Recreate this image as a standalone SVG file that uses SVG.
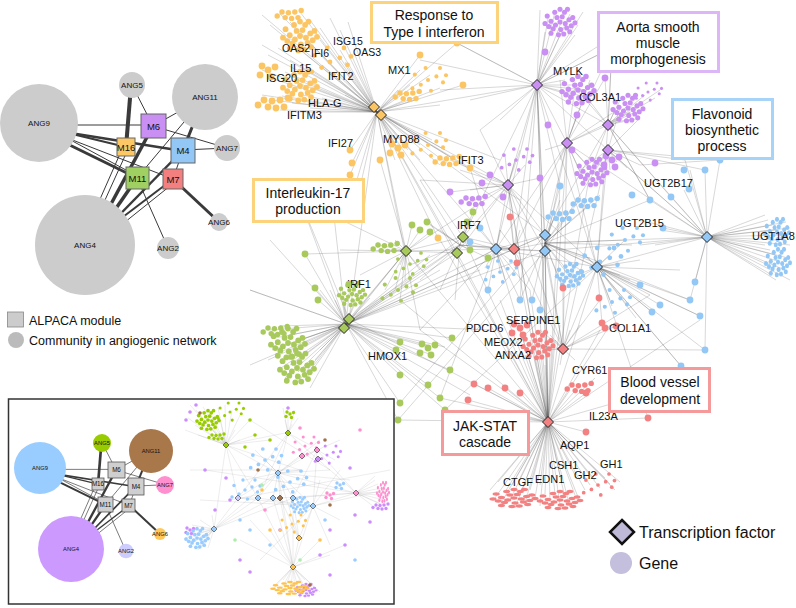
<svg xmlns="http://www.w3.org/2000/svg" width="796" height="608" viewBox="0 0 796 608">
<style>
.t{font-family:"Liberation Sans",Arial,Helvetica,sans-serif;fill:#111}
.gl{font-size:11px}
.bx{font-size:14px;text-anchor:middle}
.an{font-size:8px;text-anchor:middle}
.mn{font-size:9.5px;text-anchor:middle}
.ai{font-size:5.8px;text-anchor:middle}
.mi{font-size:6.3px;text-anchor:middle}
.e{fill:none;stroke:#555;stroke-opacity:.42;stroke-width:.55}
.ei{fill:none;stroke:#666;stroke-opacity:.3;stroke-width:.4}
.ae{stroke:#3a3a3a;fill:none}
.box{fill:#fff;stroke-width:3}
.mod{stroke:#666;stroke-width:1}
.modi{fill:#cfcfcf;stroke:#555;stroke-width:.8}
.tf{stroke:#222;stroke-width:1}
.or{fill:#fcc563}.pu{fill:#c98ff2}.gr{fill:#a8c95c}.bl{fill:#92c7f6}.rd{fill:#f48181}
</style>
<defs>
<g id="cA"><circle r="3.4"/><circle cx="7" cy="2" r="3.4"/><circle cx="-6" cy="4" r="3.4"/><circle cx="3" cy="-7" r="3.4"/><circle cx="-4" cy="-6" r="3.4"/><circle cx="12" cy="-3" r="3.4"/><circle cx="-12" cy="-1" r="3.4"/><circle cx="9" cy="8" r="3.4"/><circle cx="-9" cy="9" r="3.4"/><circle cx="1" cy="10" r="3.4"/><circle cx="15" cy="5" r="3.4"/><circle cx="-15" cy="6" r="3.4"/><circle cx="6" cy="-13" r="3.4"/><circle cx="-7" cy="-13" r="3.4"/><circle cx="17" cy="-6" r="3.4"/><circle cx="-17" cy="-8" r="3.4"/><circle cx="0" cy="-17" r="3.4"/><circle cx="13" cy="13" r="3.4"/><circle cx="-2" cy="17" r="3.4"/><circle cx="20" cy="1" r="3.4"/><circle cx="-20" cy="2" r="3.4"/><circle cx="10" cy="-17" r="3.4"/><circle cx="-12" cy="15" r="3.4"/><circle cx="5" cy="16" r="3.4"/></g>
<g id="cB"><circle r="3.4"/><circle cx="14" cy="-6" r="3.4"/><circle cx="-12" cy="8" r="3.4"/><circle cx="25" cy="4" r="3.4"/><circle cx="-22" cy="-9" r="3.4"/><circle cx="5" cy="18" r="3.4"/><circle cx="-4" cy="-20" r="3.4"/><circle cx="20" cy="-20" r="3.4"/><circle cx="-26" cy="14" r="3.4"/><circle cx="30" cy="-8" r="3.4"/></g>
<g id="cC"><circle r="3.4"/><circle cx="8" cy="1" r="3.4"/><circle cx="16" cy="0" r="3.4"/><circle cx="24" cy="-2" r="3.4"/><circle cx="4" cy="7" r="3.4"/><circle cx="12" cy="8" r="3.4"/><circle cx="20" cy="7" r="3.4"/><circle cx="-6" cy="5" r="3.4"/></g>
<g id="cD"><circle r="3.4"/><circle cx="7" cy="-3" r="3.4"/><circle cx="-6" cy="-4" r="3.4"/><circle cx="3" cy="7" r="3.4"/><circle cx="-8" cy="5" r="3.4"/></g>
<path id="dm" d="M0-5.5L5.5 0 0 5.5-5.5 0Z"/>
<path id="dmi" d="M0-3L3 0 0 3-3 0Z"/>
</defs>

<!-- ===== Top-left: modules vs communities ===== -->
<g id="ang-edges" class="ae">
<path stroke-width="1" d="M39 125L153 125"/>
<path stroke-width="2" d="M39 126L126 147"/>
<path stroke-width="2.5" d="M39 128L183 151"/>
<path stroke-width="3" d="M39 130L137 178"/>
<path stroke-width="1" d="M41 124L137 176"/>
<path stroke-width="1" d="M39 127L173 179"/>
<path stroke-width="4" d="M131 86L126 147"/>
<path stroke-width="1" d="M132 85L153 126"/>
<path stroke-width="1" d="M205 97L153 126"/>
<path stroke-width="3" d="M203 100L183 150"/>
<path stroke-width="1" d="M205 97L137 178"/>
<path stroke-width="1" d="M227 148L153 126"/>
<path stroke-width="1" d="M227 148L183 150"/>
<path stroke-width="3" d="M173 179L219 222"/>
<path stroke-width="1" d="M137 178L168 248"/>
<path stroke-width="1" d="M183 150L173 179"/>
<path stroke-width="1" d="M82 240L123 147"/>
<path stroke-width="1" d="M86 242L129 147"/>
<path stroke-width="3.5" d="M90 243L153 126"/>
<path stroke-width="3.5" d="M90 246L137 178"/>
<path stroke-width="2.5" d="M88 247L183 150"/>
<path stroke-width="2" d="M86 245L173 179"/>
<path stroke-width="1" d="M90 250L175 182"/>
</g>
<g id="ANG9"><circle cx="39" cy="123" r="39" fill="#cccccc"/><text class="t an" x="39" y="126">ANG9</text></g>
<g id="ANG5"><circle cx="132" cy="85" r="13" fill="#cccccc"/><text class="t an" x="132" y="88">ANG5</text></g>
<g id="ANG11"><circle cx="205" cy="97" r="33" fill="#cccccc"/><text class="t an" x="205" y="100">ANG11</text></g>
<g id="ANG7"><circle cx="227" cy="148" r="13" fill="#cccccc"/><text class="t an" x="227" y="151">ANG7</text></g>
<g id="ANG6"><circle cx="219" cy="222" r="9" fill="#cccccc"/><text class="t an" x="219" y="225">ANG6</text></g>
<g id="ANG2"><circle cx="168" cy="248" r="11" fill="#cccccc"/><text class="t an" x="168" y="251">ANG2</text></g>
<g id="ANG4"><circle cx="85" cy="245" r="50" fill="#cccccc"/><text class="t an" x="85" y="248">ANG4</text></g>
<g id="M6"><rect class="mod" x="141" y="114" width="25" height="24" fill="#c98ff2"/><text class="t mn" x="153.5" y="129.5">M6</text></g>
<g id="M16"><rect class="mod" x="117" y="138" width="18" height="18" fill="#fcc865"/><text class="t mn" x="126" y="150.5">M16</text></g>
<g id="M4"><rect class="mod" x="171" y="138" width="24" height="25" fill="#92c7f6"/><text class="t mn" x="183" y="154">M4</text></g>
<g id="M11"><rect class="mod" x="126" y="167" width="23" height="22" fill="#a0cf62"/><text class="t mn" x="137.5" y="181.5">M11</text></g>
<g id="M7"><rect class="mod" x="163" y="169" width="20" height="20" fill="#f47f7f"/><text class="t mn" x="173" y="182.5">M7</text></g>

<g id="legend-left">
<rect x="7.5" y="312" width="16" height="15" fill="#cccccc" stroke="#888" stroke-width=".8"/>
<text class="t" x="29" y="324.5" font-size="12.5">ALPACA module</text>
<circle cx="16" cy="340" r="8" fill="#bbbbbb"/>
<text class="t" x="29" y="344.5" font-size="12.5">Community in angiogenic network</text>
</g>

<!-- ===== Main network ===== -->
<g id="connectors">
<path class="e" d="M377 112 262 15M377 112 270 25M377 112 280 14M377 112 290 22M377 112 300 12M377 112 310 20M377 112 320 28M377 112 330 18M377 112 340 30M377 112 348 22M377 112 262 45M377 112 268 55M377 112 278 48M377 112 290 60M377 112 300 50M377 112 312 45M377 112 320 40M377 112 340 50M377 112 355 55M377 112 262 70M377 112 270 78M377 112 285 72M377 112 298 80M377 112 310 70M377 112 322 65M377 112 335 72M377 112 345 62M377 112 262 95M377 112 270 100M377 112 282 96M377 112 292 103M377 112 303 95M377 112 314 88M377 112 322 98M377 112 280 110M377 112 295 112M377 112 310 108M377 112 330 104M377 112 345 95M377 112 398 90M377 112 410 85M377 112 420 70M377 112 430 75M377 112 440 88M377 112 457 43M377 112 463 85M377 112 420 55M377 112 405 100M377 112 415 100M377 112 440 105M377 112 350 150M377 112 352 163M377 112 350 175M377 112 353 193M377 112 356 205M377 112 395 140M377 112 408 150M377 112 420 145M377 112 432 140M377 112 445 150M377 112 455 160M377 112 470 168M377 112 395 160M377 112 420 160M377 112 440 165M377 112 406 251M377 112 463 237M377 112 457 253M377 112 496 249M377 112 508 185M377 112 537 85M377 112 545 235M377 112 548 422M377 112 420 330M377 112 349 319M377 112 500 160M377 112 520 200M377 112 438 238"/>
<path class="e" d="M537 85 540 10M537 85 548 18M537 85 555 12M537 85 562 20M537 85 570 14M537 85 578 25M537 85 545 32M537 85 560 35M537 85 575 35M537 85 583 12M537 85 612 48M537 85 600 45M537 85 565 80M537 85 575 85M537 85 585 90M537 85 590 98M537 85 570 95M537 85 560 70M537 85 470 100M537 85 440 90M537 85 420 60M537 85 500 120M537 85 480 130M537 85 508 185M537 85 496 249M537 85 545 235M537 85 545 251M537 85 567 143M537 85 608 125M537 85 608 150M537 85 597 267M537 85 514 249M537 85 463 237M537 85 548 422M537 85 520 300M537 85 457 43"/>
<path class="e" d="M567 143 560 80M567 143 575 88M567 143 585 95M567 143 590 80M567 143 580 172M567 143 590 168M567 143 598 178M567 143 585 182M567 143 608 125M567 143 620 108M567 143 630 112M567 143 572 150M567 143 545 150M567 143 560 160M567 143 545 235M567 143 545 251M567 143 597 267M567 143 496 249M567 143 514 249M567 143 548 422M567 143 563 349M567 143 707 237M567 143 605 78M567 143 577 115M608 125 620 100M608 125 628 105M608 125 635 112M608 125 640 118M608 125 625 120M608 125 615 110M608 125 645 95M608 125 655 98M608 125 660 90M608 125 612 48M608 125 605 78M608 125 650 200M608 125 590 172M608 125 597 267M608 125 545 235M608 125 707 237M608 125 671 197M608 125 585 95M608 125 575 88M608 150 580 170M608 150 590 175M608 150 600 180M608 150 610 170M608 150 617 162M608 150 627 168M608 150 640 165M608 150 685 160M608 150 705 170M608 150 597 267M608 150 545 251M608 150 707 237M608 150 563 349M608 150 620 108M608 150 640 118"/>
<path class="e" d="M508 185 505 155M508 185 515 160M508 185 525 165M508 185 520 150M508 185 470 190M508 185 475 200M508 185 490 175M508 185 503 197M508 185 450 160M508 185 460 170M508 185 545 235M508 185 496 249M508 185 514 249M508 185 463 237M508 185 457 253M508 185 406 251M508 185 545 251M508 185 597 267M508 185 548 422M508 185 563 349M508 185 420 180M508 185 480 130M508 185 540 178M508 185 450 192"/>
<path class="e" d="M406 251 380 245M406 251 388 250M406 251 395 240M406 251 412 225M406 251 420 230M406 251 430 232M406 251 400 265M406 251 410 265M406 251 420 270M406 251 395 290M406 251 400 300M406 251 405 280M406 251 385 290M406 251 349 319M406 251 344 328M406 251 463 237M406 251 457 253M406 251 496 249M406 251 340 250M406 251 305 254M406 251 360 275M460 245 427 222M460 245 440 230M460 245 467 222M460 245 470 250M460 245 488 258M460 245 410 265M460 245 420 280M460 245 349 319M460 245 344 328M460 245 496 249M460 245 514 249M460 245 545 251M460 245 420 180M460 245 440 290M460 245 455 300M460 245 473 212"/>
<path class="e" d="M346 324 270 330M346 324 275 338M346 324 280 326M346 324 285 345M346 324 290 335M346 324 295 350M346 324 300 340M346 324 305 355M346 324 272 350M346 324 280 360M346 324 290 365M346 324 298 372M346 324 305 380M346 324 285 378M346 324 295 385M346 324 310 370M346 324 315 360M346 324 310 388M346 324 278 370M346 324 268 360M346 324 320 350M346 324 330 290M346 324 340 288M346 324 350 285M346 324 360 292M346 324 370 298M346 324 355 300M346 324 345 305M346 324 335 300M346 324 320 290M346 324 318 300M346 324 315 288M346 324 400 342M346 324 396 350M346 324 421 345M346 324 427 345M346 324 432 355M346 324 445 347M346 324 400 375M346 324 428 385M346 324 450 370M346 324 440 398M346 324 445 410M346 324 490 330M346 324 470 395M346 324 406 251M346 324 457 253M346 324 463 237M346 324 496 249M346 324 514 249M346 324 545 251M346 324 545 235M346 324 480 270M346 324 440 270M346 324 430 255M346 324 395 290M346 324 410 280M346 324 305 254M346 324 398 420M346 324 400 403M346 324 452 338M346 324 250 290M346 324 300 200M346 324 270 240"/>
<path class="e" d="M496 249 475 260M496 249 485 268M496 249 500 270M496 249 510 260M496 249 505 280M496 249 488 290M496 249 530 290M496 249 520 300M496 249 514 249M496 249 545 235M496 249 545 251M496 249 597 267M496 249 480 228M496 249 470 242M496 249 500 230M545 243 555 215M545 243 563 218M545 243 570 222M545 243 560 200M545 243 580 200M545 243 590 205M545 243 568 275M545 243 560 282M545 243 575 280M545 243 580 270M545 243 590 258M545 243 600 262M545 243 625 240M545 243 632 245M545 243 540 310M545 243 532 300M545 243 520 300M545 243 597 267M545 243 707 237M545 243 563 349M545 243 548 422M545 243 514 249M545 243 563 288M545 243 600 195M545 243 560 186M545 243 650 200M545 243 690 300M545 243 700 316"/>
<path class="e" d="M597 267 585 255M597 267 610 255M597 267 615 265M597 267 620 275M597 267 630 280M597 267 640 285M597 267 650 295M597 267 660 305M597 267 690 300M597 267 700 316M597 267 610 300M597 267 612 306M597 267 627 305M597 267 636 318M597 267 575 280M597 267 560 282M597 267 707 237M597 267 602 323M597 267 625 240M597 267 640 260M597 267 680 270M597 267 705 350M597 267 681 366M597 267 652 312M707 237 765 215M707 237 768 220M707 237 772 225M707 237 776 230M707 237 780 235M707 237 786 222M707 237 790 228M707 237 765 245M707 237 770 250M707 237 775 255M707 237 780 262M707 237 785 270M707 237 772 275M707 237 788 258M707 237 790 245M707 237 778 240M707 237 768 265M707 237 776 280M707 237 790 280M707 237 690 170M707 237 684 190M707 237 671 197M707 237 695 282M707 237 690 300M707 237 650 200M707 237 640 220M707 237 545 251M707 237 608 150M707 237 685 160M707 237 705 170M707 237 660 230M707 237 655 245M707 237 640 245M707 237 663 228"/>
<path class="e" d="M548 422 490 490M548 422 495 498M548 422 500 505M548 422 505 492M548 422 510 500M548 422 515 508M548 422 520 495M548 422 525 503M548 422 530 490M548 422 535 498M548 422 540 506M548 422 545 494M548 422 550 502M548 422 555 495M548 422 560 505M548 422 565 498M548 422 570 507M548 422 575 495M548 422 580 502M548 422 585 490M548 422 590 485M548 422 595 480M548 422 600 488M548 422 605 478M548 422 610 484M548 422 615 490M548 422 620 482M548 422 575 475M548 422 560 475M548 422 530 480M548 422 512 485M548 422 520 478M548 422 498 482M548 422 540 485M548 422 520 330M548 422 530 340M548 422 540 345M548 422 550 350M548 422 525 355M548 422 535 360M548 422 545 365M548 422 555 340M548 422 540 320M548 422 560 325M548 422 474 384M548 422 488 388M548 422 505 388M548 422 520 393M548 422 586 393M548 422 595 378M548 422 580 385M548 422 570 390M548 422 600 330M548 422 610 325M548 422 468 400M548 422 475 410M548 422 420 330M548 422 400 300M548 422 349 319M548 422 406 251M548 422 457 253M548 422 463 237M548 422 496 249M548 422 514 249M548 422 545 251M548 422 545 235M548 422 597 267M548 422 508 185M548 422 537 85M548 422 586 432M548 422 648 418M548 422 660 390M548 422 700 320M548 422 560 186M548 422 590 172M548 422 440 398M548 422 445 410M548 422 398 420M548 422 500 300M548 422 530 290"/>
<path class="e" d="M563 349 540 330M563 349 550 335M563 349 555 340M563 349 545 350M563 349 535 345M563 349 570 330M563 349 580 325M563 349 605 328M563 349 616 326M563 349 575 360M563 349 560 365M563 349 600 300M563 349 563 288M563 349 545 251M563 349 597 267M563 349 514 249M563 349 650 295M563 349 705 350M514 249 510 217M514 249 520 230M514 249 500 230M514 249 517 263M514 249 463 237M514 249 545 235"/>
<path class="e" d="M612 48 537 85M612 48 608 125M612 48 590 95M620 45 612 48M720 160 707 237M720 160 608 150M720 160 640 165M457 43 537 85M300 200 406 251M300 200 349 319M440 240 548 422M380 160 406 251M430 225 460 245M470 168 496 249M330 180 346 324M420 330 496 249M398 420 545 251M445 410 597 267M400 403 545 235M440 398 496 249M250 365 346 324M250 290 346 324M650 200 608 125M705 350 707 237M681 366 597 267M652 312 597 267M648 418 597 267M560 186 537 85"/>
</g>

<g id="genes">
<g class="or">
<use href="#cA" transform="translate(300,36) scale(.85)"/>
<use href="#cA" transform="translate(300,86) scale(.85)"/>
<use href="#cB" transform="translate(330,62) scale(.7)"/>
<use href="#cC" transform="translate(264,100)"/>
<use href="#cC" transform="translate(282,12) scale(.8)"/>
<use href="#cD" transform="translate(268,70)"/>
<use href="#cB" transform="translate(428,80) scale(.6)"/>
<use href="#cC" transform="translate(400,93) scale(.8)"/>
<use href="#cB" transform="translate(428,145) scale(.6)"/>
<use href="#cC" transform="translate(440,158) scale(.8)"/>
<use href="#cD" transform="translate(398,148)"/>
<circle cx="457" cy="43" r="3.4"/><circle cx="420" cy="55" r="3.4"/><circle cx="463" cy="85" r="3.4"/><circle cx="350" cy="150" r="3.4"/><circle cx="352" cy="163" r="3.4"/><circle cx="350" cy="175" r="3.4"/><circle cx="353" cy="193" r="3.4"/><circle cx="356" cy="205" r="3.4"/><circle cx="438" cy="238" r="3.4"/><circle cx="380" cy="160" r="3.4"/><circle cx="470" cy="168" r="3.4"/>
</g>
<g class="pu">
<use href="#cA" transform="translate(560,22) scale(.75)"/>
<use href="#cA" transform="translate(578,90) scale(.8)"/>
<use href="#cA" transform="translate(628,108) scale(.75)"/>
<use href="#cB" transform="translate(648,92) scale(.45)"/>
<use href="#cA" transform="translate(592,172) scale(.75)"/>
<use href="#cB" transform="translate(516,160) scale(.55)"/>
<use href="#cC" transform="translate(466,198) scale(.8)"/>
<use href="#cD" transform="translate(612,160)"/>
<circle cx="612" cy="48" r="3.4"/><circle cx="605" cy="78" r="3.4"/><circle cx="577" cy="115" r="3.4"/><circle cx="572" cy="150" r="3.4"/><circle cx="545" cy="52" r="3.4"/><circle cx="548" cy="125" r="3.4"/><circle cx="503" cy="197" r="3.4"/><circle cx="490" cy="175" r="3.4"/><circle cx="482" cy="183" r="3.4"/><circle cx="450" cy="192" r="3.4"/><circle cx="540" cy="178" r="3.4"/><circle cx="655" cy="163" r="3.4"/>
</g>
<g class="gr">
<use href="#cA" transform="translate(288,343) scale(.85)"/>
<use href="#cA" transform="translate(297,368) scale(.85)"/>
<use href="#cC" transform="translate(268,328) scale(.8)"/>
<use href="#cA" transform="translate(352,294) scale(.65)"/>
<use href="#cB" transform="translate(398,290) scale(.6)"/>
<use href="#cB" transform="translate(410,264) scale(.55)"/>
<use href="#cC" transform="translate(378,245) scale(.8)"/>
<use href="#cD" transform="translate(428,348)"/>
<circle cx="305" cy="254" r="3.4"/><circle cx="315" cy="288" r="3.4"/><circle cx="318" cy="300" r="3.4"/><circle cx="400" cy="342" r="3.4"/><circle cx="396" cy="350" r="3.4"/><circle cx="452" cy="338" r="3.4"/><circle cx="400" cy="375" r="3.4"/><circle cx="428" cy="385" r="3.4"/><circle cx="445" cy="410" r="3.4"/><circle cx="400" cy="403" r="3.4"/><circle cx="398" cy="420" r="3.4"/><circle cx="450" cy="370" r="3.4"/><circle cx="412" cy="225" r="3.4"/><circle cx="420" cy="230" r="3.4"/><circle cx="430" cy="232" r="3.4"/><circle cx="427" cy="222" r="3.4"/><circle cx="467" cy="222" r="3.4"/><circle cx="470" cy="250" r="3.4"/><circle cx="488" cy="258" r="3.4"/><circle cx="473" cy="212" r="3.4"/><circle cx="440" cy="398" r="3.4"/>
</g>
<g class="bl">
<use href="#cA" transform="translate(777,232) scale(.6,.75)"/>
<use href="#cA" transform="translate(778,262) scale(.6,.75)"/>
<use href="#cB" transform="translate(600,262) scale(.7)"/>
<use href="#cA" transform="translate(570,275) scale(.65)"/>
<use href="#cB" transform="translate(625,240) scale(.6)"/>
<use href="#cC" transform="translate(553,213) scale(.8)"/>
<use href="#cC" transform="translate(578,200) scale(.8)"/>
<use href="#cB" transform="translate(612,302) scale(.6)"/>
<use href="#cB" transform="translate(500,272) scale(.55)"/>
<circle cx="705" cy="170" r="3.4"/><circle cx="671" cy="197" r="3.4"/><circle cx="689" cy="189" r="3.4"/><circle cx="684" cy="170" r="3.4"/><circle cx="650" cy="200" r="3.4"/><circle cx="632" cy="195" r="3.4"/><circle cx="560" cy="186" r="3.4"/><circle cx="690" cy="300" r="3.4"/><circle cx="695" cy="282" r="3.4"/><circle cx="700" cy="316" r="3.4"/><circle cx="705" cy="350" r="3.4"/><circle cx="681" cy="366" r="3.4"/><circle cx="652" cy="312" r="3.4"/><circle cx="660" cy="305" r="3.4"/><circle cx="540" cy="310" r="3.4"/><circle cx="532" cy="300" r="3.4"/><circle cx="520" cy="300" r="3.4"/><circle cx="488" cy="290" r="3.4"/><circle cx="640" cy="285" r="3.4"/><circle cx="663" cy="228" r="3.4"/><circle cx="470" cy="242" r="3.4"/><circle cx="480" cy="228" r="3.4"/><circle cx="720" cy="160" r="3.4"/>
</g>
<g class="rd">
<use href="#cA" transform="translate(514,498) scale(1.05,.5)"/>
<use href="#cA" transform="translate(560,500) scale(1,.5)"/>
<use href="#cB" transform="translate(598,485) scale(.55)"/>
<use href="#cA" transform="translate(538,345) scale(.75)"/>
<use href="#cC" transform="translate(572,385) scale(.8)"/>
<use href="#cD" transform="translate(520,328)"/>
<circle cx="474" cy="384" r="3.4"/><circle cx="488" cy="388" r="3.4"/><circle cx="505" cy="388" r="3.4"/><circle cx="520" cy="393" r="3.4"/><circle cx="468" cy="400" r="3.4"/><circle cx="648" cy="418" r="3.4"/><circle cx="586" cy="432" r="3.4"/><circle cx="605" cy="328" r="3.4"/><circle cx="616" cy="326" r="3.4"/><circle cx="586" cy="393" r="3.4"/><circle cx="510" cy="217" r="3.4"/><circle cx="563" cy="288" r="3.4"/><circle cx="599" cy="298" r="3.4"/><circle cx="602" cy="323" r="3.4"/><circle cx="517" cy="263" r="3.4"/>
</g>
</g>

<g id="transcription-factors" class="tf">
<use href="#dm" x="374" y="107" fill="#fcc563"/><use href="#dm" x="381" y="115" fill="#fcc563"/>
<use href="#dm" x="537" y="85" fill="#c98ff2"/><use href="#dm" x="567" y="143" fill="#c98ff2"/><use href="#dm" x="608" y="125" fill="#c98ff2"/><use href="#dm" x="608" y="150" fill="#c98ff2"/><use href="#dm" x="508" y="185" fill="#c98ff2"/>
<use href="#dm" x="406" y="251" fill="#a8c95c"/><use href="#dm" x="463" y="237" fill="#a8c95c"/><use href="#dm" x="457" y="253" fill="#a8c95c"/><use href="#dm" x="349" y="319" fill="#a8c95c"/><use href="#dm" x="344" y="328" fill="#a8c95c"/>
<use href="#dm" x="496" y="249" fill="#92c7f6"/><use href="#dm" x="545" y="235" fill="#92c7f6"/><use href="#dm" x="545" y="251" fill="#92c7f6"/><use href="#dm" x="597" y="267" fill="#92c7f6"/><use href="#dm" x="707" y="237" fill="#92c7f6"/>
<use href="#dm" x="514" y="249" fill="#f48181"/><use href="#dm" x="563" y="349" fill="#f48181"/><use href="#dm" x="548" y="422" fill="#f48181"/>
</g>

<g id="gene-labels" class="t gl">
<text x="282" y="52" font-size="10.5">OAS2</text><text x="311" y="57" font-size="10.5">IFI6</text><text x="333" y="45" font-size="10.5">ISG15</text><text x="353" y="56" font-size="10.5">OAS3</text>
<text x="290" y="72">IL15</text><text x="266" y="82">ISG20</text><text x="328" y="80">IFIT2</text><text x="388" y="74">MX1</text>
<text x="308" y="107">HLA-G</text><text x="287" y="119">IFITM3</text><text x="328" y="147">IFI27</text><text x="383" y="143">MYD88</text>
<text x="458" y="164">IFIT3</text><text x="457" y="229">IRF7</text><text x="347" y="288">IRF1</text><text x="368" y="360">HMOX1</text>
<text x="553" y="75">MYLK</text><text x="579" y="101">COL3A1</text><text x="644" y="187">UGT2B17</text><text x="615" y="227">UGT2B15</text><text x="752" y="240">UGT1A8</text>
<text x="466" y="332">PDCD6</text><text x="506" y="324">SERPINE1</text><text x="484" y="346">MEOX2</text><text x="495" y="359">ANXA2</text><text x="609" y="332">COL1A1</text>
<text x="572" y="374">CYR61</text><text x="589" y="420">IL23A</text><text x="560" y="449">AQP1</text><text x="549" y="469">CSH1</text><text x="600" y="468">GH1</text>
<text x="574" y="479">GH2</text><text x="535" y="483">EDN1</text><text x="503" y="486">CTGF</text>
</g>
<circle cx="348.5" cy="284" r="3" fill="#a8c95c"/>

<g id="box-interferon"><rect class="box" x="371.5" y="2.5" width="126" height="40" stroke="#fcd27a"/><text class="t bx" x="434" y="20">Response to</text><text class="t bx" x="434" y="37">Type I interferon</text></g>
<g id="box-il17"><rect class="box" x="253.5" y="179.5" width="110" height="42" stroke="#fcd27a"/><text class="t bx" x="308" y="198">Interleukin-17</text><text class="t bx" x="308" y="214">production</text></g>
<g id="box-aorta"><rect class="box" x="598.5" y="12.5" width="120" height="59" stroke="#dcb6f6"/><text class="t bx" x="658" y="32">Aorta smooth</text><text class="t bx" x="658" y="48">muscle</text><text class="t bx" x="658" y="64">morphogenesis</text></g>
<g id="box-flavonoid"><rect class="box" x="672.5" y="99.5" width="100" height="59" stroke="#a8d3f8"/><text class="t bx" x="722" y="119">Flavonoid</text><text class="t bx" x="722" y="135">biosynthetic</text><text class="t bx" x="722" y="151">process</text></g>
<g id="box-blood"><rect class="box" x="609.5" y="368.5" width="100" height="43" stroke="#f59a9a"/><text class="t bx" x="660" y="387">Blood vessel</text><text class="t bx" x="660" y="404">development</text></g>
<g id="box-jak"><rect class="box" x="442.5" y="411.5" width="86" height="43" stroke="#f59a9a"/><text class="t bx" x="485" y="431">JAK-STAT</text><text class="t bx" x="485" y="447">cascade</text></g>

<g id="legend-right">
<path d="M622 520L634 532 622 544 610 532Z" fill="#bdb9d6" stroke="#111" stroke-width="2.5"/>
<text class="t" x="639" y="537.5" font-size="16">Transcription factor</text>
<circle cx="621" cy="563" r="11" fill="#c3bfdc"/>
<text class="t" x="639" y="568.5" font-size="16">Gene</text>
</g>

<!-- ===== Inset ===== -->
<g id="inset">
<rect x="8.5" y="399" width="385.5" height="205" fill="#fff" stroke="#333" stroke-width="1.5"/>
<use href="#ang-edges" transform="translate(14,386) scale(.667)"/>
<g id="iANG9"><circle cx="40" cy="468" r="26" fill="#99ccff"/><text class="t ai" x="40" y="470">ANG9</text></g>
<g id="iANG5"><circle cx="102" cy="443" r="9" fill="#99cc00"/><text class="t ai" x="102" y="445">ANG5</text></g>
<g id="iANG11"><circle cx="151" cy="451" r="22" fill="#a8774a"/><text class="t ai" x="151" y="453">ANG11</text></g>
<g id="iANG7"><circle cx="165" cy="485" r="9" fill="#ff8fcf"/><text class="t ai" x="165" y="487">ANG7</text></g>
<g id="iANG6"><circle cx="160" cy="534" r="6" fill="#ffc85a"/><text class="t ai" x="160" y="536">ANG6</text></g>
<g id="iANG2"><circle cx="126" cy="551" r="7.3" fill="#ccccff"/><text class="t ai" x="126" y="553">ANG2</text></g>
<g id="iANG4"><circle cx="71" cy="549" r="33" fill="#cc99ff"/><text class="t ai" x="71" y="551">ANG4</text></g>
<g id="iM6"><rect class="modi" x="108" y="462" width="17" height="16"/><text class="t mi" x="116.5" y="472">M6</text></g>
<g id="iM16"><rect class="modi" x="92" y="478" width="12" height="12"/><text class="t mi" x="98" y="486">M16</text></g>
<g id="iM4"><rect class="modi" x="128" y="478" width="16" height="17"/><text class="t mi" x="136" y="488.5">M4</text></g>
<g id="iM11"><rect class="modi" x="98" y="497" width="15" height="15"/><text class="t mi" x="105.5" y="506.5">M11</text></g>
<g id="iM7"><rect class="modi" x="122" y="499" width="13" height="13"/><text class="t mi" x="128.5" y="508">M7</text></g>

<g id="inset-network">
<path class="ei" d="M226 445 190 405M226 445 196 410M226 445 203 407M226 445 210 412M226 445 218 408M226 445 225 405M226 445 232 410M226 445 240 415M226 445 188 418M226 445 195 425M226 445 205 422M226 445 213 428M226 445 220 420M226 445 185 430M226 445 198 435M226 445 210 438M226 445 222 432M226 445 235 430M226 445 240 440M226 445 250 420M226 445 255 435M226 445 270 440M226 445 285 433M226 445 278 473M226 445 258 498M226 445 300 470M288 433 283 408M288 433 288 412M288 433 295 410M288 433 298 418M288 433 285 420M288 433 292 424M288 433 278 473M288 433 310 445M288 433 258 498M288 433 330 470M288 433 238 498"/>
<path class="ei" d="M278 473 238 498M278 473 258 498M278 473 273 498M278 473 280 498M278 473 293 498M278 473 313 506M278 473 356 493M278 473 317 450M278 473 302 456M278 473 214 529M278 473 293 567M278 473 299 538M278 473 265 460M278 473 245 480M278 473 300 470M278 473 330 470M278 473 350 480M278 473 320 440M278 473 255 450M313 506 356 493M313 506 340 520M313 506 330 545M313 506 293 567M313 506 385 490M313 506 320 480M313 506 340 470M313 506 258 498M313 506 238 498M313 506 317 450M356 493 375 480M356 493 378 484M356 493 382 488M356 493 386 492M356 493 388 496M356 493 384 500M356 493 380 504M356 493 386 506M356 493 378 510M356 493 375 476M356 493 280 498M356 493 293 498M356 493 317 450M356 493 330 470"/>
<path class="ei" d="M214 529 186 530M214 529 190 535M214 529 195 540M214 529 200 545M214 529 205 538M214 529 190 545M214 529 198 550M214 529 208 548M214 529 185 538M214 529 192 525M214 529 200 520M214 529 212 515M214 529 238 498M214 529 258 498M214 529 273 498M214 529 293 498M214 529 226 445M293 567 275 585M293 567 280 592M293 567 285 588M293 567 290 596M293 567 295 590M293 567 300 598M293 567 305 590M293 567 310 595M293 567 315 588M293 567 320 592M293 567 272 590M293 567 283 580M293 567 305 580M293 567 258 498M293 567 273 498M293 567 280 498M293 567 293 498M293 567 299 538M293 567 270 530M293 567 250 520M293 567 240 540M293 567 320 540M293 567 330 555M293 567 345 545M299 538 280 498M299 538 293 498M299 538 313 506M299 538 290 525M317 450 302 456M317 450 340 440M317 450 335 460M317 450 293 498M238 498 258 498M238 498 226 445M205 470 356 493M190 470 300 470M250 420 330 470M230 500 390 470M200 500 313 506M260 560 313 506"/>
<g fill="#99cc00">
<use href="#cA" transform="translate(208,420) scale(.55)"/>
<use href="#cB" transform="translate(230,412) scale(.45)"/>
<use href="#cC" transform="translate(212,435) scale(.5)"/>
<use href="#cD" transform="translate(290,414) scale(.5)"/>
<circle cx="250" cy="420" r="1.8"/><circle cx="255" cy="435" r="1.8"/><circle cx="270" cy="440" r="1.8"/><circle cx="245" cy="447" r="1.8"/>
</g>
<g fill="#cc8cff">
<circle cx="190" cy="412" r="1.8"/><circle cx="186" cy="420" r="1.8"/><circle cx="196" cy="405" r="1.8"/><circle cx="288" cy="408" r="1.8"/>
<use href="#cB" transform="translate(327,455) scale(.45)"/>
<use href="#cC" transform="translate(376,505) scale(.5)"/>
<use href="#cD" transform="translate(190,530) scale(.5)"/>
<use href="#cA" transform="translate(306,590) scale(.5,.35)"/>
<circle cx="226" cy="478" r="1.8"/><circle cx="215" cy="510" r="1.8"/><circle cx="330" cy="530" r="1.8"/><circle cx="345" cy="545" r="1.8"/><circle cx="355" cy="515" r="1.8"/><circle cx="240" cy="560" r="1.8"/><circle cx="250" cy="572" r="1.8"/><circle cx="330" cy="575" r="1.8"/><circle cx="370" cy="522" r="1.8"/><circle cx="320" cy="555" r="1.8"/><circle cx="280" cy="530" r="1.8"/><circle cx="205" cy="470" r="1.8"/><circle cx="230" cy="500" r="1.8"/><circle cx="350" cy="468" r="1.8"/>
</g>
<g fill="#ff8fcf">
<use href="#cB" transform="translate(305,446) scale(.45)"/>
<use href="#cA" transform="translate(383,492) scale(.3,.55)"/>
<use href="#cD" transform="translate(330,495) scale(.5)"/>
<circle cx="360" cy="430" r="1.8"/><circle cx="300" cy="428" r="1.8"/><circle cx="265" cy="510" r="1.8"/>
</g>
<g fill="#99ccff">
<use href="#cB" transform="translate(265,460) scale(.55)"/>
<use href="#cB" transform="translate(290,482) scale(.55)"/>
<use href="#cA" transform="translate(300,505) scale(.45)"/>
<use href="#cB" transform="translate(245,490) scale(.5)"/>
<use href="#cA" transform="translate(197,538) scale(.55)"/>
<use href="#cD" transform="translate(340,485) scale(.5)"/>
<circle cx="325" cy="520" r="1.8"/><circle cx="250" cy="530" r="1.8"/><circle cx="270" cy="545" r="1.8"/><circle cx="240" cy="520" r="1.8"/><circle cx="355" cy="560" r="1.8"/>
</g>
<g fill="#ffc24d">
<use href="#cB" transform="translate(292,524) scale(.45)"/>
<use href="#cA" transform="translate(290,588) scale(.85,.35)"/>
<circle cx="270" cy="530" r="1.8"/><circle cx="320" cy="540" r="1.8"/><circle cx="262" cy="490" r="1.8"/>
</g>
<g fill="#a0704a"><circle cx="200" cy="413" r="1.8"/><circle cx="258" cy="470" r="1.8"/><circle cx="330" cy="505" r="1.8"/><circle cx="310" cy="585" r="1.8"/><circle cx="325" cy="440" r="1.8"/></g>
<g fill="#aaeeaa"><circle cx="262" cy="485" r="1.8"/><circle cx="235" cy="540" r="1.8"/><circle cx="300" cy="560" r="1.8"/></g>
<g stroke="#333" stroke-width=".6">
<use href="#dmi" x="226" y="445" fill="#99cc00"/><use href="#dmi" x="288" y="433" fill="#99cc00"/><use href="#dmi" x="278" y="473" fill="#99ccff"/><use href="#dmi" x="258" y="498" fill="#99ccff"/><use href="#dmi" x="273" y="498" fill="#99ccff"/><use href="#dmi" x="280" y="498" fill="#a0704a"/><use href="#dmi" x="293" y="498" fill="#99ccff"/><use href="#dmi" x="313" y="506" fill="#99ccff"/><use href="#dmi" x="238" y="498" fill="#ccccff"/><use href="#dmi" x="356" y="493" fill="#ff8fcf"/><use href="#dmi" x="214" y="529" fill="#99ccff"/><use href="#dmi" x="293" y="567" fill="#ffc24d"/><use href="#dmi" x="299" y="538" fill="#ffc24d"/><use href="#dmi" x="317" y="450" fill="#ff8fcf"/><use href="#dmi" x="318" y="459" fill="#cc8cff"/><use href="#dmi" x="302" y="456" fill="#ff8fcf"/>
</g>
</g>
</g>
</svg>
